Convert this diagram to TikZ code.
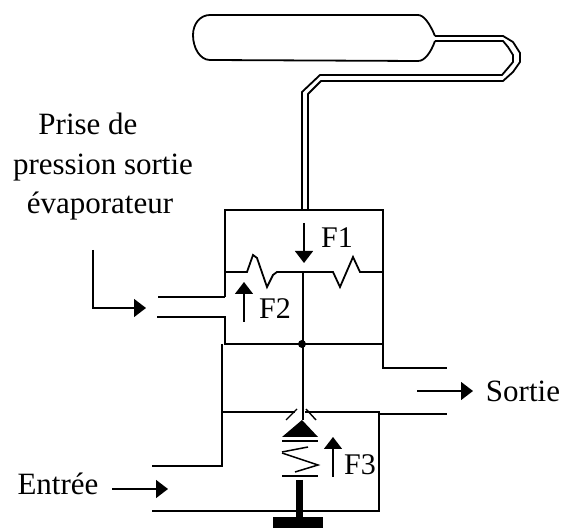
\documentclass[tikz,border=0pt]{standalone}
\usepackage{fontspec}
\setmainfont{Liberation Serif}
\usetikzlibrary{arrows.meta}
\tikzset{
  x=1pt,y=-1pt,
  wall/.style={line width=1.8pt},
  flow/.style={line width=1.4pt,-{Triangle[length=12pt,width=18pt]}},
  lab/.style={font=\fontsize{31}{36}\selectfont,inner sep=0pt,anchor=base},
  flab/.style={font=\fontsize{30}{36}\selectfont,inner sep=0pt,anchor=base},
}
\begin{document}
\begin{tikzpicture}
\useasboundingbox (0,0) rectangle (563,529);
% bulb and capillary
\draw[wall,line join=round] (435,36) -- (503,36) -- (513,42) -- (520,53) -- (520,62) -- (513,72) -- (503,81) -- (321,81) -- (308,94) -- (308,209);
\draw[wall,line join=round] (435,41) -- (503,41) -- (508,47) -- (513,55) -- (513,62) -- (508,68) -- (502,75) -- (320,75) -- (302,92) -- (302,209);
\draw[wall] (435,36) .. controls (430,24) and (424,15) .. (418,15) -- (210,15) .. controls (200,15) and (193,24) .. (193,35) .. controls (193,48) and (200,60) .. (210,60) -- (418,61) .. controls (425,61) and (431,52) .. (435,41);
% upper housing
\draw[wall] (225,297) -- (225,210) -- (383,210) -- (383,368) -- (447,368);
\draw[wall] (225,272) -- (247,272) -- (253,255) -- (257,258) -- (267,287) -- (273,275) -- (277,272) -- (333,272) -- (340,287) -- (353,257) -- (360,272) -- (383,272);
\draw[wall] (158,297) -- (225,297);
\draw[wall] (157,317) -- (225,317) -- (225,344) -- (383,344);
\draw[wall] (222,344) -- (222,466) -- (152,466);
\draw[wall] (152,511) -- (379,511) -- (379,412) -- (305,412);
\draw[wall] (379,414) -- (447,414);
\draw[wall] (222,412) -- (295,412);
% stem
\draw[wall] (303,272) -- (303,420);
\fill (302,344) circle (4);
\draw[line width=1.4pt] (286,420) -- (297,409);
\draw[line width=1.4pt] (306,409) -- (316,420);
\fill (302,420) -- (282,437) -- (318,437) -- cycle;
% spring
\draw[wall] (282,441) -- (318,441);
\draw[line width=1.5pt] (282,452) -- (308,447);
\draw[line width=1.5pt] (282,453) -- (318,465) -- (295,472);
\draw[wall] (282,476) -- (318,476);
\draw[line width=7pt] (299,480) -- (299,517);
\fill (273,517) rectangle (323,528);
% force arrows
\draw[flow] (304,223) -- (304,263);
\draw[flow] (244,322) -- (244,282);
\draw[flow] (333,477) -- (333,437);
\node[flab] (f1) at (337,248) {F1};
\node[flab] (f2) at (275,319) {F2};
\node[flab] (f3) at (360,475) {F3};
% flow arrows
\draw[flow] (93,250) -- (93,308) -- (146,308);
\draw[flow] (417,391) -- (473,391);
\draw[flow] (112,489) -- (168,489);
% labels
\node[lab] (t1) at (88,135) {Prise de};
\node[lab] (t2) at (103,175) {pression sortie};
\node[lab] (t3) at (100,214) {évaporateur};
\node[lab] (t4) at (523,402) {Sortie};
\node[lab] (t5) at (58,495) {Entrée};
\end{tikzpicture}
\end{document}
